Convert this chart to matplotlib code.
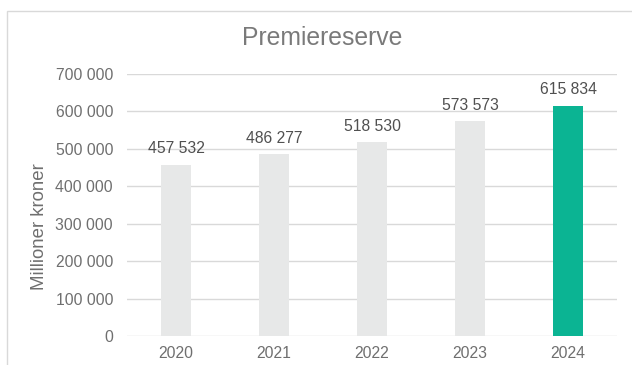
import matplotlib
matplotlib.use("Agg")
import matplotlib.pyplot as plt
from matplotlib.patches import Rectangle

years = ["2020", "2021", "2022", "2023", "2024"]
values = [457532, 486277, 518530, 573573, 615834]
yticks = [0, 100000, 200000, 300000, 400000, 500000, 600000, 700000]
title = "Premiereserve"
ylabel = "Millioner kroner"

def fmt(v):
    return f"{v:,}".replace(",", " ")

plt.rcParams['font.family'] = ['Liberation Sans', 'DejaVu Sans']
fig = plt.figure(figsize=(6.32, 3.65), dpi=100)
fig.patch.set_facecolor("white")

# outer chart frame
fig.add_artist(Rectangle((7/632, -0.2), 1.0, (365-11)/365 + 0.2, transform=fig.transFigure,
                         fill=False, edgecolor="#d9d9d9", linewidth=1.0))

ax = fig.add_axes([127/632, (365-336)/365, (617-127)/632, (336-74)/365])
colors = ["#e7e8e8"] * 4 + ["#0bb493"]
x = range(len(years))
bars = ax.bar(x, values, width=0.31, color=colors, zorder=3)
ax.set_xlim(-0.5, len(years) - 0.5)
ax.set_ylim(0, 700000)
ax.set_yticks(yticks)
ax.set_yticklabels([fmt(t) for t in yticks])
ax.set_xticks(list(x))
ax.set_xticklabels(years)
ax.grid(axis="y", color="#d9d9d9", linewidth=1.0, zorder=0)
for s in ax.spines.values():
    s.set_visible(False)
ax.tick_params(axis="both", length=0, labelsize=11.3, labelcolor="#6f6f6f")
ax.tick_params(axis="y", pad=10)
ax.tick_params(axis="x", pad=7)
ax.set_ylabel(ylabel, fontsize=13.4, color="#6f6f6f")
ax.yaxis.set_label_coords((48 - 127) / 490, (336 - 227) / 262)
for xi, v in zip(x, values):
    ax.annotate(fmt(v), (xi, v), xytext=(0, 6), textcoords="offset points",
                ha="center", va="bottom", fontsize=11.3, color="#505050")
fig.text(322/632, (365-38)/365, title, ha="center", va="center", fontsize=17.8, color="#7a7a7a")
fig.savefig("out.png", dpi=100)
